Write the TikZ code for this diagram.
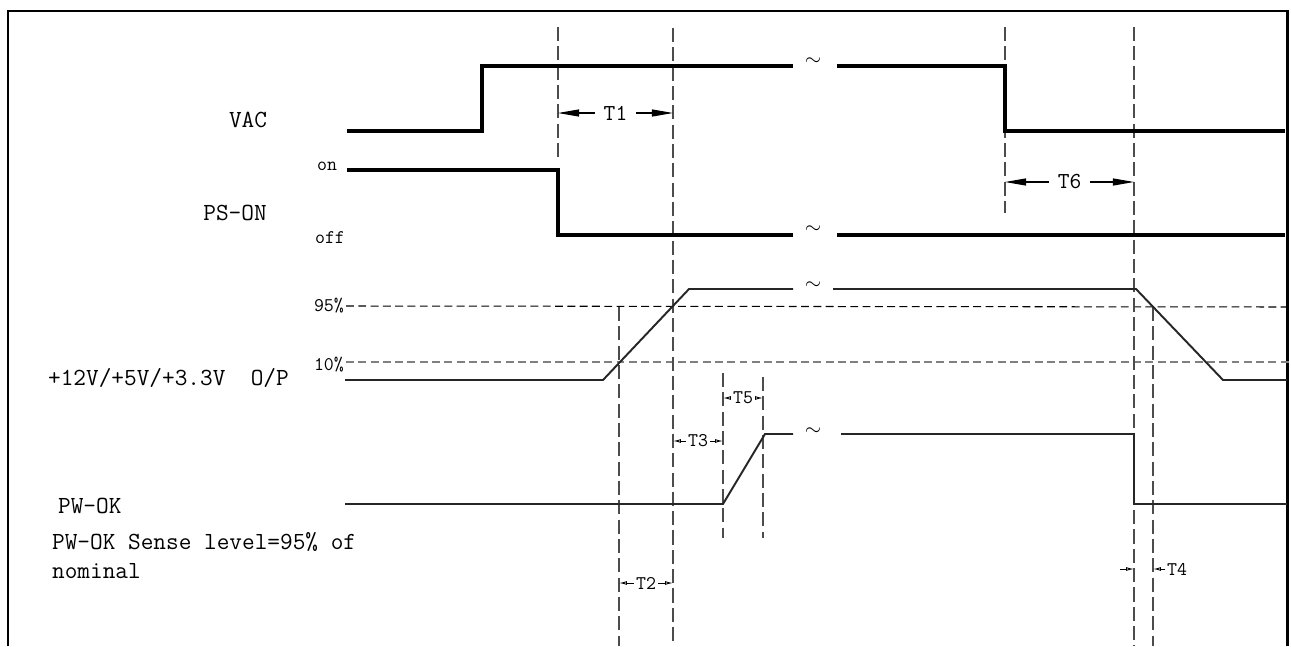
\documentclass[tikz,border=0pt]{standalone}
\usepackage{fontspec}
\usetikzlibrary{arrows.meta}

\tikzset{
    sigthick/.style={line width=2.5pt},
    sigthin/.style={line width=1.1pt, black!85},
    vguide/.style={line width=0.6pt, gray!60!black, dash pattern=on 8pt off 3pt},
    hguide/.style={line width=0.6pt, dash pattern=on 4.5pt off 2.5pt},
    bigdim/.style={line width=0.6pt, {Triangle[length=12pt,width=4pt]}-{Triangle[length=12pt,width=4pt]}},
    smalldim/.style={line width=0.5pt, {Latex[open,length=4.5pt,width=2.2pt]}-{Latex[open,length=4.5pt,width=2.2pt]}},
    lbl/.style={font=\ttfamily\fontsize{14}{16.4}\selectfont, inner sep=1pt},
    dimlbl/.style={font=\ttfamily\fontsize{13}{15}\selectfont, inner sep=1pt},
    smalllbl/.style={font=\ttfamily\fontsize{11}{12}\selectfont, inner sep=1pt},
    brk/.style={font=\large, inner sep=0pt}
}

\begin{document}
\begin{tikzpicture}[x=0.02cm, y=-0.02cm]
        \useasboundingbox (0,0) rectangle (1291,646);
        % frame
        \draw[line width=1.7pt] (8,646) -- (8,11) -- (1287,11) -- (1287,646);

        % signal names
        \node[lbl] (vac) at (248,120) {VAC};
        \node[lbl] (pson) at (235,213) {PS-ON};
        \node[smalllbl] (on) at (327,166) {on};
        \node[smalllbl] (off) at (330,238) {off};
        \node[lbl, anchor=west] (vout) at (46,378) {+12V/+5V/+3.3V\ \ O/P};
        \node[lbl, anchor=west] (pwok) at (56,506) {PW-OK};
        \node[lbl, anchor=north west, align=left] (sense) at (50,530) {PW-OK Sense level=95\% of\\nominal};
        \node[smalllbl, anchor=east] (p95) at (346,306) {95\%};
        \node[smalllbl, anchor=east] (p10) at (346,365) {10\%};

        % level lines
        \draw[hguide] (p95.east) -- (1291,307);
        \draw[hguide, gray] (p10.east |- 0,362) -- (1291,362);

        % guides
        \draw[vguide] (558,27) -- (558,157);
        \draw[vguide] (673,28) -- (673,646);
        \draw[vguide] (1005,27) -- (1005,213);
        \draw[vguide] (1134,27) -- (1134,646);
        \draw[vguide] (619,307) -- (619,646);
        \draw[vguide] (723,373) -- (723,538);
        \draw[vguide] (763,377) -- (763,538);
        \draw[vguide] (1153,307) -- (1153,646);

        % VAC
        \draw[sigthick] (347,131) -- (482,131) -- (482,66) -- (793,66);
        \node[brk] (vacbrk) at (813,62) {$\sim$};
        \draw[sigthick] (837,66) -- (1005,66) -- (1005,131) -- (1285,131);

        % PS-ON
        \draw[sigthick] (347,170) -- (558,170) -- (558,235) -- (793,235);
        \node[brk] (psbrk) at (813,230) {$\sim$};
        \draw[sigthick] (837,235) -- (1285,235);

        % outputs
        \draw[sigthin] (345,380) -- (603,380) -- (689,289) -- (793,289);
        \node[brk] (outbrk) at (813,286) {$\sim$};
        \draw[sigthin] (833,289) -- (1136,289) -- (1223,380) -- (1287,380);

        % PW-OK
        \draw[sigthin] (345,504) -- (723,504) -- (765,434) -- (793,434);
        \node[brk] (okbrk) at (813,432) {$\sim$};
        \draw[sigthin] (841,434) -- (1134,434) -- (1134,504) -- (1287,504);

        % timings
        \draw[bigdim] (558,113) -- node[dimlbl, fill=white, inner sep=5pt] (t1) {T1} (673,113);
        \draw[bigdim] (1005,182) -- node[dimlbl, fill=white, inner sep=5pt] (t6) {T6} (1134,182);
        \draw[smalldim] (619,583) -- node[smalllbl, fill=white] (t2) {T2} (673,583);
        \draw[smalldim] (673,441) -- node[smalllbl, fill=white] (t3) {T3} (723,441);
        \draw[smalldim] (723,398) -- node[smalllbl, fill=white] (t5) {T5} (763,398);
        \node[smalllbl, anchor=west] (t4) at (1165,569) {T4};
        \coordinate (t4l) at (1120,569);
        \draw[line width=0.5pt, -{Latex[open,length=4.5pt,width=2.2pt]}] (t4l) -- (1134,569);
        \draw[line width=0.5pt, -{Latex[open,length=4.5pt,width=2.2pt]}] (t4.west) -- (1153,569);
\end{tikzpicture}
\end{document}
